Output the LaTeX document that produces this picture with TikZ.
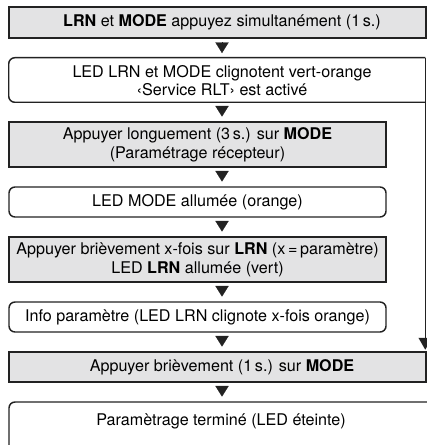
\documentclass[tikz,border=0pt]{standalone}
\usepackage{fontspec}
\setmainfont{TeX Gyre Heros}
\usetikzlibrary{arrows.meta,calc,fit}
\definecolor{boxgray}{RGB}{227,227,228}
\definecolor{edgecol}{RGB}{34,34,34}
\begin{document}
\begin{tikzpicture}[x=0.75pt,y=-0.75pt,
  edgeline/.style={draw=edgecol,line width=1.1pt},
  frame/.style={edgeline,inner sep=0pt},
  action/.style={frame,fill=boxgray},
  state/.style={frame,rounded corners=4.5pt},
  txt/.style={inner sep=0pt,align=center,
    font=\fontsize{12.1}{14}\selectfont},
  flow/.style={draw=edgecol,line width=0.2pt,shorten <=3.5pt,shorten >=3.5pt,
    -{Triangle[width=10pt,length=8pt]}},
  back/.style={edgeline,-{Triangle[width=10pt,length=9pt]}}]
\useasboundingbox (0,0) rectangle (427,445);
\clip (0,0) rectangle (427,445);

% vertical axis of the main flow
\coordinate (axis) at (222,0);

% boxes
\node[action, fit={(9,7) (426,38)}] (b1) {};
\node[fit={(9,58) (425,102)}, inner sep=0pt] (b2) {};
\draw[edgeline, rounded corners=4.5pt] (b2.north east) -- (b2.north west)
  -- (b2.south west) -- (b2.south east);
\node[action, fit={(9,122) (386,167)}] (b3) {};
\node[state,  fit={(9,187) (386,217)}] (b4) {};
\node[action, fit={(9,237) (386,282)}] (b5) {};
\node[state,  fit={(9,302) (386,332)}] (b6) {};
\node[action, fit={(9,352) (426,382)}] (b7) {};
\node[state,  fit={(9,402) (450,480)}] (b8) {};

% texts
\node[txt] (t1) at (222,22.5) {\textbf{LRN} et \textbf{MODE} appuyez simultanément (1\,s.)};
\node[txt] (t2) at (222,80.5) {LED LRN et MODE clignotent vert-orange\\‹Service RLT› est activé};
\node[txt] (t3) at (197.5,145) {Appuyer longuement (3\,s.) sur \textbf{MODE}\\(Paramétrage récepteur)};
\node[txt] (t4) at (197.5,202.5) {LED MODE allumée (orange)};
\node[txt] (t5) at (197.5,260) {Appuyer brièvement x-fois sur \textbf{LRN} (x\,=\,paramètre)\\LED \textbf{LRN} allumée (vert)};
\node[txt] (t6) at (197.5,317.5) {Info paramètre (LED LRN clignote x-fois orange)};
\node[txt] (t7) at (222,367.5) {Appuyer brièvement (1\,s.) sur \textbf{MODE}};
\node[txt] (t8) at (221,421.5) {Paramètrage terminé (LED éteinte)};

% main flow
\draw[flow] (b1.south -| axis) -- (b2.north -| axis);
\draw[flow] (b2.south -| axis) -- (b3.north -| axis);
\draw[flow] (b3.south -| axis) -- (b4.north -| axis);
\draw[flow] (b4.south -| axis) -- (b5.north -| axis);
\draw[flow] (b5.south -| axis) -- (b6.north -| axis);
\draw[flow] (b6.south -| axis) -- (b7.north -| axis);
\draw[flow] (b7.south -| axis) -- (b8.north -| axis);

% bypass along the right side
\coordinate (bypass) at ($(b7.north -| b2.east)+(0,-1.5)$);
\draw[back] (b2.north east) -- (b2.south east) -- (bypass);
\end{tikzpicture}
\end{document}
